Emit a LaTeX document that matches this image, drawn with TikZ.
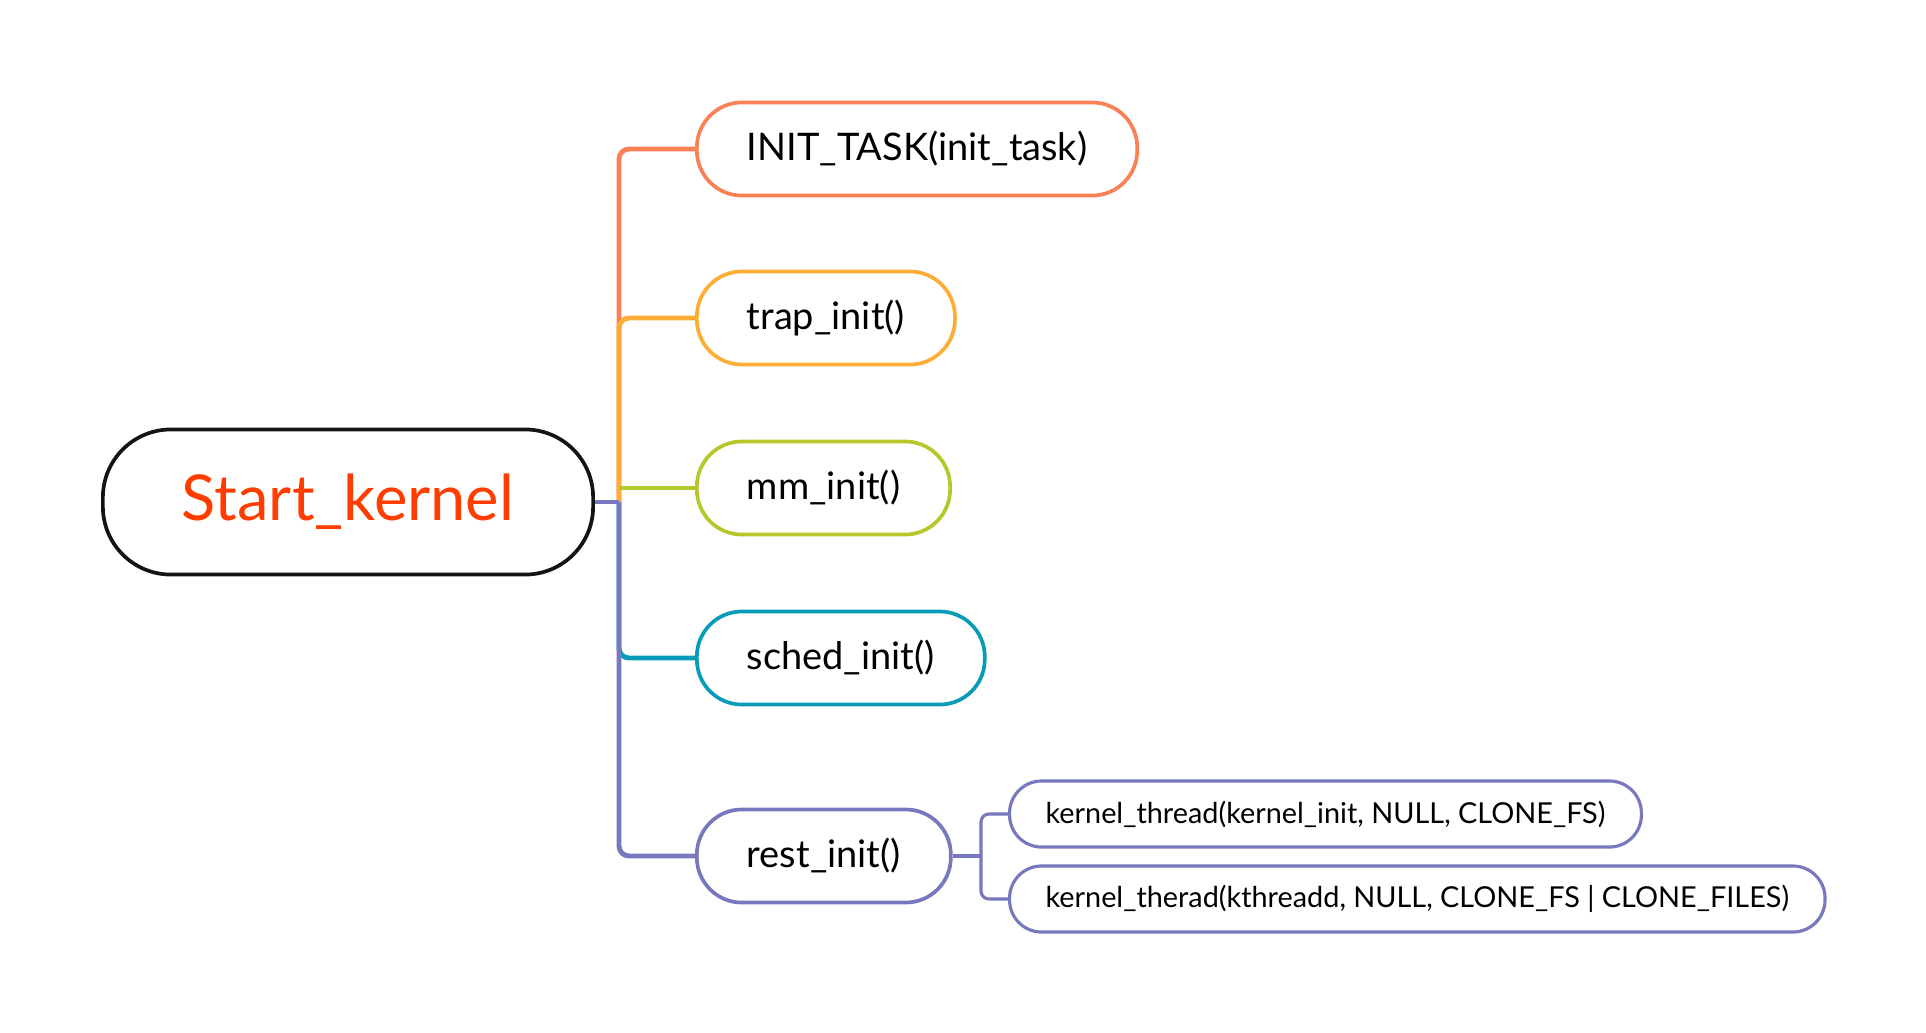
\documentclass[tikz,border=0pt]{standalone}
\usepackage{fontspec}
\setmainfont{Lato}
\usepackage{tikz}
\usetikzlibrary{positioning}
\definecolor{rootred}{RGB}{255,61,0}
\definecolor{rootline}{RGB}{20,20,20}
\definecolor{initc}{RGB}{250,128,86}
\definecolor{trapc}{RGB}{253,173,53}
\definecolor{mmc}{RGB}{182,199,42}
\definecolor{schedc}{RGB}{8,155,185}
\definecolor{restc}{RGB}{120,120,190}

\begin{document}
\begin{tikzpicture}[
  x=0.01cm, y=-0.01cm,
  rootbox/.style={draw=rootline, line width=1.05pt, rounded corners=0.68cm, minimum width=4.9cm, minimum height=1.45cm, text=rootred, font=\fontsize{18}{20}\selectfont},
  callbox/.style={draw, line width=1.05pt, rounded corners=0.45cm, anchor=west, inner xsep=0.5cm, minimum height=0.93cm, font=\fontsize{10.8}{12}\selectfont},
  subbox/.style={draw=restc, line width=0.9pt, rounded corners=0.32cm, anchor=west, inner xsep=0.36cm, minimum height=0.66cm, font=\fontsize{8.2}{9}\selectfont},
  link/.style={line width=1.4pt, rounded corners=0.1cm},
  sublink/.style={line width=0.9pt, draw=restc, rounded corners=0.08cm}
]
\useasboundingbox (0,0) rectangle (1926,1032);

% root and first level
\node[rootbox] (root) at (348,502) {Start\_kernel};
\node[callbox, draw=initc] (init) at (695,149) {INIT\_TASK(init\_task)};
\node[callbox, draw=trapc] (trap) at (695,318) {trap\_init()};
\node[callbox, draw=mmc] (mm) at (695,488) {mm\_init()};
\node[callbox, draw=schedc] (sched) at (695,658) {sched\_init()};
\node[callbox, draw=restc] (rest) at (695,856) {rest\_init()};

% second level under rest_init
\node[subbox] (kinit) at (1008,814) {kernel\_thread(kernel\_init, NULL, CLONE\_FS)};
\node[subbox] (kthreadd) at (1008,899) {kernel\_therad(kthreadd, NULL, CLONE\_FS | CLONE\_FILES)};

\coordinate (trunk) at (619,502);
\coordinate (subtrunk) at (981,856);

% connectors
\draw[link, initc] (trunk) |- (init.west);
\draw[link, trapc] (trunk) |- (trap.west);
\draw[link, mmc] (trunk |- mm.west) -- (mm.west);
\draw[link, schedc] (trunk) |- (sched.west);
\draw[link, restc] (trunk) |- (rest.west);
\draw[link, restc, rounded corners=0pt] (root.east) -- (trunk);
\draw[sublink] (rest.east) -- (subtrunk);
\draw[sublink] (subtrunk) |- (kinit.west);
\draw[sublink] (subtrunk) |- (kthreadd.west);
\end{tikzpicture}
\end{document}
